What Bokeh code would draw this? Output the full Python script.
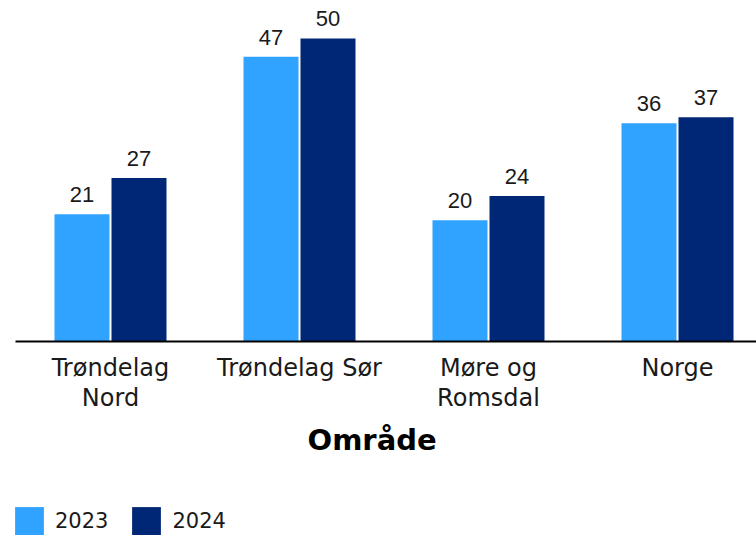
from bokeh.plotting import figure
from bokeh.layouts import column
from bokeh.models import (ColumnDataSource, FixedTicker, Range1d, Legend, LegendItem, Title)
from bokeh.core.properties import value
from bokeh.embed import file_html
from bokeh.resources import INLINE

categories = ["Trøndelag\nNord", "Trøndelag Sør", "Møre og\nRomsdal", "Norge"]
series_names = ["2023", "2024"]
values_2023 = [21, 47, 20, 36]
values_2024 = [27, 50, 24, 37]
colors = ["#2FA3FF", "#002776"]
axis_title = "Område"

idx = list(range(len(categories)))
offset = 0.1508
bar_w = 0.291

p = figure(width=756, height=495, output_backend="svg", toolbar_location=None,
           x_range=Range1d(-0.5026, 3.418), y_range=Range1d(0, 56.27),
           min_border_left=15, min_border_right=0, min_border_top=0, min_border_bottom=154)

src1 = ColumnDataSource(dict(x=[i - offset for i in idx], top=values_2023,
                             lab=[str(v) for v in values_2023]))
src2 = ColumnDataSource(dict(x=[i + offset for i in idx], top=values_2024,
                             lab=[str(v) for v in values_2024]))

p.vbar(x="x", top="top", width=bar_w, source=src1, fill_color=colors[0], line_color=None)
p.vbar(x="x", top="top", width=bar_w, source=src2, fill_color=colors[1], line_color=None)

for s in (src1, src2):
    p.text(x="x", y="top", text="lab", source=s, text_align="center", text_baseline="bottom",
           y_offset=-12, text_font=value("Liberation Sans"), text_font_size="22px",
           text_color="#1a1a1a")

ax = p.xaxis[0]
ax.ticker = FixedTicker(ticks=idx)
ax.major_label_overrides = {i: c for i, c in zip(idx, categories)}
ax.major_label_text_font = "DejaVu Sans"
ax.major_label_text_font_size = "24px"
ax.major_label_text_line_height = 1.08
ax.major_label_text_color = "#1a1a1a"
ax.major_label_standoff = 12
ax.major_tick_out = 0
ax.major_tick_in = 0
ax.major_tick_line_color = None
ax.minor_tick_line_color = None
ax.axis_line_color = "black"
ax.axis_line_width = 2
p.yaxis.visible = False
p.xgrid.visible = False
p.ygrid.visible = False
p.outline_line_color = None

title = Title(text=axis_title, align="left", offset=292, standoff=13,
              text_font="DejaVu Sans", text_font_style="bold", text_font_size="29px",
              text_color="black")
p.add_layout(title, "below")

# legend strip (its bars lie outside its visible ranges; only the legend shows)
p2 = figure(frame_width=756, frame_height=40, output_backend="svg", toolbar_location=None,
            x_axis_location=None, y_axis_location=None,
            x_range=Range1d(10, 11), y_range=Range1d(100, 110),
            min_border_left=0, min_border_right=0, min_border_top=0, min_border_bottom=0)
l1 = p2.vbar(x=idx, top=values_2023, width=bar_w, fill_color=colors[0], line_color=None)
l2 = p2.vbar(x=idx, top=values_2024, width=bar_w, fill_color=colors[1], line_color=None)
p2.grid.visible = False
p2.outline_line_color = None
legend = Legend(items=[LegendItem(label=series_names[0], renderers=[l1]),
                       LegendItem(label=series_names[1], renderers=[l2])],
                location=(11, -4), orientation="horizontal",
                glyph_width=36, glyph_height=36, label_standoff=8, spacing=20,
                padding=0, margin=0, border_line_color=None, background_fill_alpha=0,
                label_text_font="DejaVu Sans", label_text_font_size="21px",
                label_text_color="#1a1a1a")
p2.add_layout(legend, "center")

layout = column(p, p2, spacing=0)
open("out.html", "w").write(file_html(layout, INLINE))
